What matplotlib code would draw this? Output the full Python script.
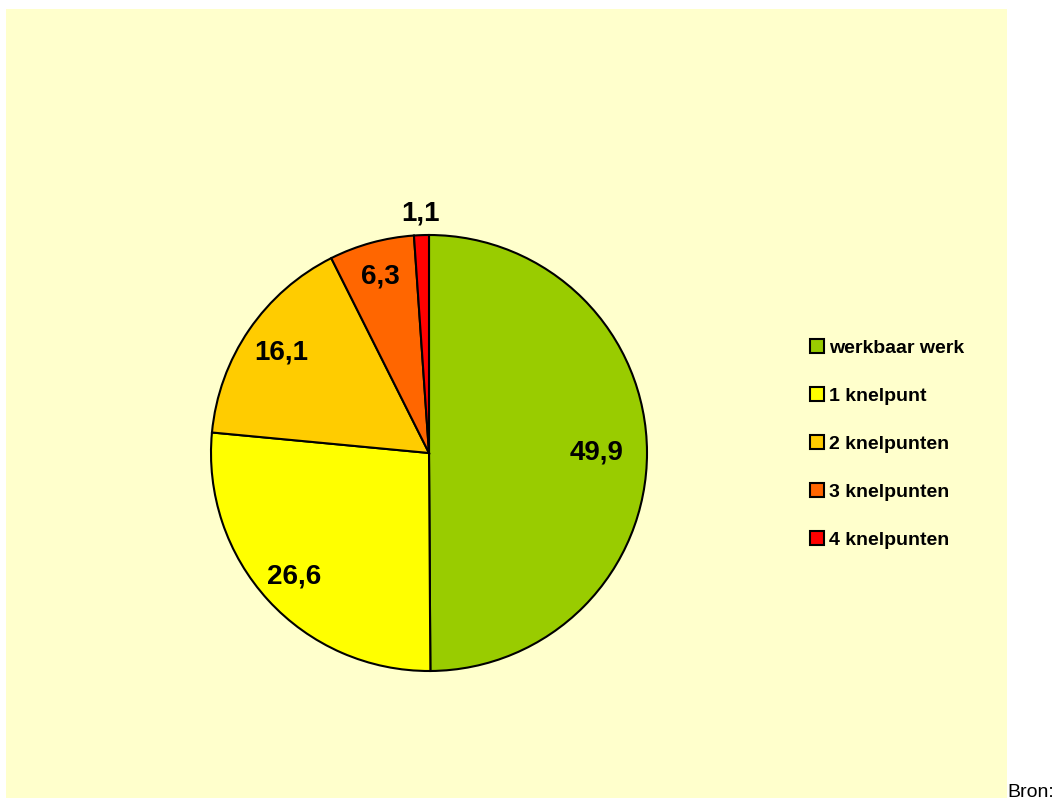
import matplotlib
matplotlib.use('Agg')
import matplotlib.pyplot as plt
import numpy as np
from matplotlib.patches import Rectangle
from matplotlib import font_manager

categories = ['werkbaar werk', '1 knelpunt', '2 knelpunten', '3 knelpunten', '4 knelpunten']
values = [49.9, 26.6, 16.1, 6.3, 1.1]
value_labels = ['49,9', '26,6', '16,1', '6,3', '1,1']
colors = ['#99CC00', '#FFFF00', '#FFCC00', '#FF6600', '#FF0000']

names = {f.name for f in font_manager.fontManager.ttflist}
fam = 'Liberation Sans Narrow' if 'Liberation Sans Narrow' in names else 'Liberation Sans'
plt.rcParams['font.family'] = [fam, 'DejaVu Sans']

W, H = 1064, 798
fig = plt.figure(figsize=(W / 100, H / 100), dpi=100)
fig.patch.set_facecolor('white')

# yellow chart area
fig.patches.append(Rectangle((6 / W, 0), 1001 / W, 789 / H, transform=fig.transFigure,
                             facecolor='#FFFFCC', edgecolor='none', zorder=-5))

cx, cy, r = 429, 453, 218
ax = fig.add_axes([(cx - r) / W, (H - cy - r) / H, 2 * r / W, 2 * r / H])
ax.set_zorder(2)
ax.set_facecolor('none')
wedges, _ = ax.pie(values, colors=colors, startangle=90, counterclock=False,
                   wedgeprops=dict(edgecolor='black', linewidth=1.5))
ax.set_xlim(-1, 1)
ax.set_ylim(-1, 1)
ax.set_aspect('equal')
ax.axis('off')

dists = [0.77, 0.84, 0.82, 0.84, 1.10]
for w, lab, d in zip(wedges, value_labels, dists):
    ang = np.deg2rad((w.theta1 + w.theta2) / 2)
    ax.text(d * np.cos(ang), d * np.sin(ang), lab, ha='center', va='center',
            fontsize=20, fontweight='bold', clip_on=False)

handles = [Rectangle((0, 0), 1, 1, facecolor=c, edgecolor='black', linewidth=1.5) for c in colors]
fig.legend(handles, categories, loc='upper left', bbox_to_anchor=(800 / W, 1 - 329 / H),
           frameon=False, prop=dict(size=14, weight='bold'), handlelength=0.75,
           handleheight=0.75, handletextpad=0.25, labelspacing=1.55, borderpad=0)

# source note, partly outside the picture as in the original
fig.text(1007 / W, -0.004, 'Bron:', fontsize=14, ha='left', va='bottom', family='Liberation Sans')

fig.savefig('out.png', dpi=100, facecolor='white')
